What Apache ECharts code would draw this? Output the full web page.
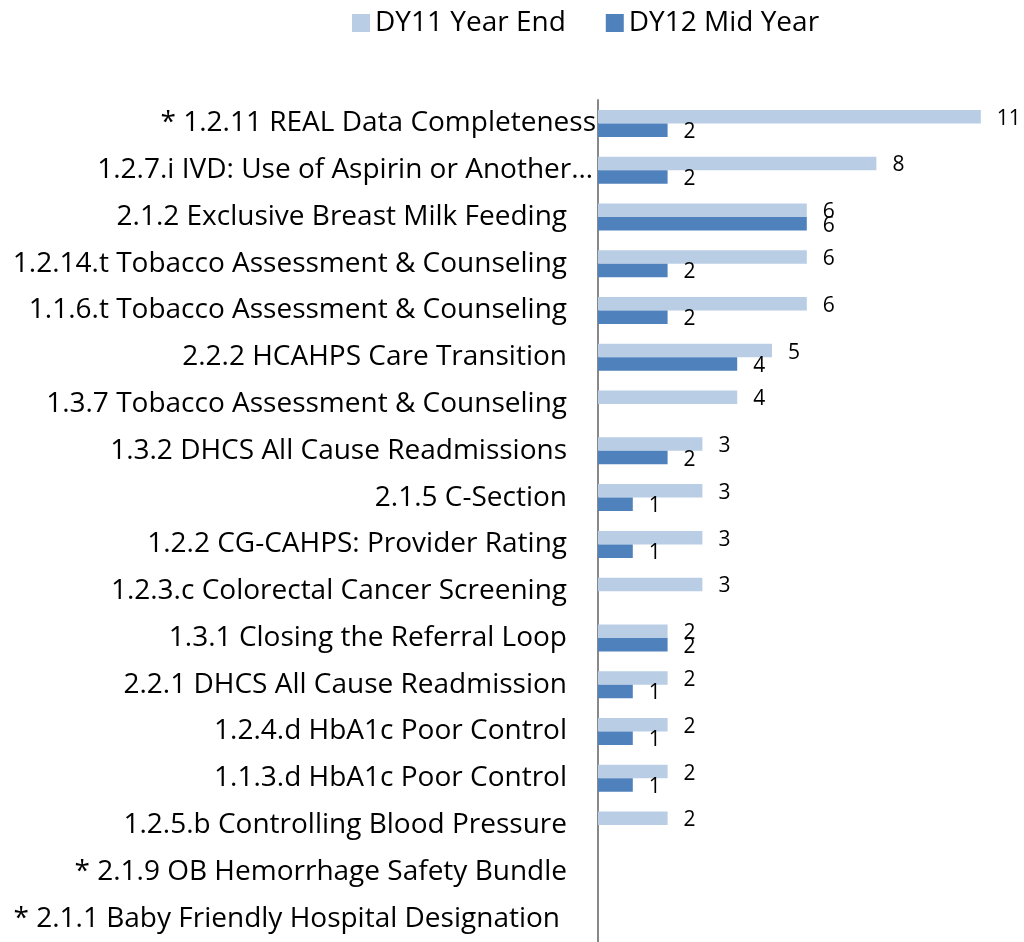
<!DOCTYPE html>
<html>
<head>
<meta charset="utf-8">
<script src="https://cdn.jsdelivr.net/npm/echarts@6/dist/echarts.min.js"></script>
<style>
  html, body { margin: 0; padding: 0; background: #fff; }
  #chart { width: 1024px; height: 942px; }
</style>
</head>
<body>
<div id="chart"></div>
<script>
// measures, top to bottom
const categories = [
    '* 1.2.11 REAL Data Completeness',
    '1.2.7.i IVD: Use of Aspirin or Another…',
    '2.1.2 Exclusive Breast Milk Feeding',
    '1.2.14.t Tobacco Assessment & Counseling',
    '1.1.6.t Tobacco Assessment & Counseling',
    '2.2.2 HCAHPS Care Transition',
    '1.3.7 Tobacco Assessment & Counseling',
    '1.3.2 DHCS All Cause Readmissions',
    '2.1.5 C-Section',
    '1.2.2 CG-CAHPS: Provider Rating',
    '1.2.3.c Colorectal Cancer Screening',
    '1.3.1 Closing the Referral Loop',
    '2.2.1 DHCS All Cause Readmission',
    '1.2.4.d HbA1c Poor Control',
    '1.1.3.d HbA1c Poor Control',
    '1.2.5.b Controlling Blood Pressure',
    '* 2.1.9 OB Hemorrhage Safety Bundle',
    '* 2.1.1 Baby Friendly Hospital Designation'
];
const dy11YearEnd = [11, 8, 6, 6, 6, 5, 4, 3, 3, 3, 3, 2, 2, 2, 2, 2, null, null];
const dy12MidYear = [2, 2, 6, 2, 2, 4, null, 2, 1, 1, null, 2, 1, 1, 1, null, null, null];

const chart = echarts.init(document.getElementById('chart'));

// the original's labels don't all end at the same x
function labelGap(i, n) {
    if (i === 0) return 0;
    if (i === 1) return 3;
    if (i === n - 1) return 36;
    return 29;
}

const yData = categories.map((c, i) => ({
    value: c,
    textStyle: { padding: [4, labelGap(i, categories.length), 0, 0] }
}));

const labelStyle = {
    show: true,
    position: 'right',
    distance: 16,
    offset: [0, 2],
    color: '#000',
    fontFamily: 'Open Sans',
    fontSize: 21
};

const option = {
    animation: false,
    textStyle: { fontFamily: 'Open Sans' },
    legend: {
        top: 4,
        left: 347,
        itemWidth: 18,
        itemHeight: 18,
        itemGap: 40,
        icon: 'rect',
        textStyle: { fontSize: 28, color: '#000', fontFamily: 'Open Sans' },
        data: ['DY11 Year End', 'DY12 Mid Year']
    },
    grid: {
        left: 598,
        top: 100,
        width: 417.6,
        height: 844
    },
    xAxis: {
        type: 'value',
        min: 0,
        max: 12,
        show: false
    },
    yAxis: {
        type: 'category',
        inverse: true,
        data: yData,
        axisLine: { show: true, lineStyle: { color: '#888', width: 2 } },
        axisTick: { show: false },
        axisLabel: {
            margin: 2,
            color: '#000',
            fontSize: 28,
            fontFamily: 'Open Sans'
        }
    },
    series: [
        {
            name: 'DY11 Year End',
            type: 'bar',
            barWidth: 13.5,
            barGap: '0%',
            itemStyle: { color: '#B9CDE5' },
            label: labelStyle,
            data: dy11YearEnd
        },
        {
            name: 'DY12 Mid Year',
            type: 'bar',
            barWidth: 13.5,
            itemStyle: { color: '#4F81BD' },
            label: labelStyle,
            data: dy12MidYear
        }
    ]
};

chart.setOption(option);
</script>
</body>
</html>
